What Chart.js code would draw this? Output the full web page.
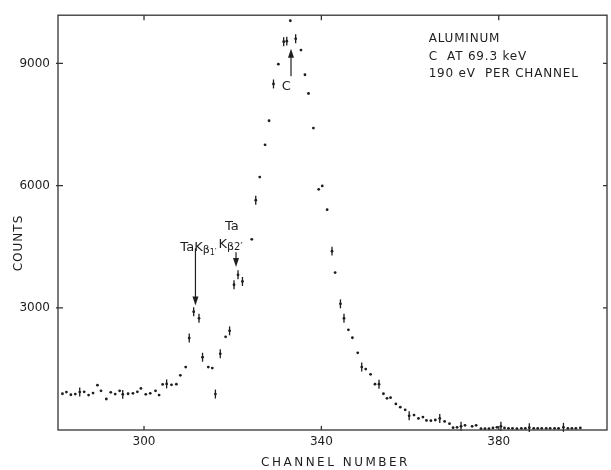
<!DOCTYPE html>
<html>
<head>
<meta charset="utf-8">
<script src="https://cdn.jsdelivr.net/npm/chart.js@4.4.1/dist/chart.umd.min.js"></script>
<style>
  html, body { margin: 0; padding: 0; background: #fff; }
  #wrap { width: 611px; height: 470px; }
</style>
</head>
<body>
<div id="wrap"><canvas id="chart" width="611" height="470"></canvas></div>
<script>
// channel positions
const channels = [
  281.6, 282.5, 283.5, 284.5, 285.5, 286.5, 287.5, 288.5, 289.5, 290.3,
  291.5, 292.5, 293.5, 294.5, 295.2, 296.4, 297.5, 298.5, 299.3, 300.4,
  301.4, 302.6, 303.4, 304.2, 305.1, 306.2, 307.3, 308.2, 309.4, 310.2,
  311.2, 312.4, 313.2, 314.5, 315.4, 316.1, 317.2, 318.4, 319.3, 320.3,
  321.2, 322.2, 324.3, 325.2, 326.1, 327.3, 328.2, 329.2, 330.3, 331.5,
  332.2, 333.0, 334.2, 335.4, 336.3, 337.1, 338.2, 339.4, 340.2, 341.3,
  342.4, 343.1, 344.3, 345.1, 346.1, 347.0, 348.2, 349.1, 350.0, 351.1,
  352.1, 353.0, 354.0, 354.8, 355.6, 356.8, 357.8, 358.9, 359.8, 360.9,
  361.9, 362.9, 363.7, 364.7, 365.7, 366.7, 367.8, 368.9, 369.7, 370.6,
  371.5, 372.4, 374.0, 374.9, 376.0, 376.9, 377.8, 378.7, 379.6, 380.5,
  381.3, 382.2, 383.1, 384.1, 385.1, 386.0, 386.9, 387.9, 388.8, 389.7,
  390.7, 391.6, 392.6, 393.5, 394.6, 395.6, 396.5, 397.4, 398.4
];
const counts = [
  890, 931, 866, 883, 931, 938, 858, 907, 1101, 963,
  761, 924, 883, 963, 875, 890, 900, 938, 1021, 875,
  900, 963, 858, 1118, 1132, 1108, 1125, 1343, 1545, 2258,
  2903, 2743, 1787, 1545, 1521, 883, 1870, 2289, 2435, 3567,
  3810, 3647, 4683, 5643, 6210, 7001, 7593, 8497, 8982, 9533,
  9548, 10049, 9605, 9329, 8723, 8262, 7413, 5910, 5992, 5410,
  4392, 3866, 3097, 2743, 2459, 2265, 1894, 1545, 1496, 1368,
  1125, 1125, 890, 778, 793, 640, 560, 495, 349, 366,
  284, 318, 235, 228, 245, 284, 211, 155, 58, 65,
  90, 114, 90, 114, 34, 34, 34, 51, 65, 90,
  51, 41, 41, 34, 41, 41, 58, 41, 41, 41,
  41, 41, 41, 41, 65, 41, 41, 41, 51
];
// points that carry a vertical error bar
const barChannels = [
  285.5, 295.2, 305.1, 310.2, 311.2, 312.4, 313.2, 316.1, 317.2, 319.3,
  320.3, 321.2, 322.2, 325.2, 329.2, 331.5, 332.2, 334.2, 342.4, 344.3,
  345.1, 349.1, 353.0, 359.8, 366.7, 371.5, 380.5, 386.9, 394.6
];
const barHalf = 110;

const xTicks = [300, 340, 380];
const yTicks = [3000, 6000, 9000];

const infoLines = ["ALUMINUM", "C  AT 69.3 keV", "190 eV  PER CHANNEL"];

const INK = "#1e1e1e";
const FONT = "'DejaVu Sans', sans-serif";

function drawArrow(ctx, x, y1, y2) {
  const dir = y2 > y1 ? 1 : -1;
  ctx.beginPath();
  ctx.moveTo(x, y1);
  ctx.lineTo(x, y2 - dir * 6);
  ctx.stroke();
  ctx.beginPath();
  ctx.moveTo(x, y2);
  ctx.lineTo(x - 3, y2 - dir * 9);
  ctx.lineTo(x + 3, y2 - dir * 9);
  ctx.closePath();
  ctx.fill();
}

const errorBars = {
  id: "errorBars",
  afterDatasetsDraw(chart) {
    const { ctx, scales } = chart;
    ctx.save();
    ctx.strokeStyle = INK;
    ctx.lineWidth = 1.3;
    channels.forEach((c, i) => {
      if (!barChannels.includes(c)) return;
      const px = scales.x.getPixelForValue(c);
      ctx.beginPath();
      ctx.moveTo(px, scales.y.getPixelForValue(counts[i] + barHalf));
      ctx.lineTo(px, scales.y.getPixelForValue(counts[i] - barHalf));
      ctx.stroke();
    });
    ctx.restore();
  },
};

const frameAndNotes = {
  id: "frameAndNotes",
  afterDraw(chart) {
    const { ctx, chartArea: a, scales } = chart;
    const X = (v) => scales.x.getPixelForValue(v);
    const Y = (v) => scales.y.getPixelForValue(v);
    ctx.save();

    // frame
    ctx.strokeStyle = "#333";
    ctx.lineWidth = 1.3;
    ctx.strokeRect(a.left, a.top, a.right - a.left, a.bottom - a.top);

    // inward ticks
    ctx.beginPath();
    xTicks.forEach((v) => {
      const px = X(v);
      ctx.moveTo(px, a.bottom); ctx.lineTo(px, a.bottom - 4);
      ctx.moveTo(px, a.top); ctx.lineTo(px, a.top + 5);
    });
    yTicks.forEach((v) => {
      const py = Y(v);
      ctx.moveTo(a.left - 2, py); ctx.lineTo(a.left + 5, py);
      ctx.moveTo(a.right, py); ctx.lineTo(a.right - 4, py);
    });
    ctx.stroke();

    ctx.fillStyle = INK;
    ctx.strokeStyle = INK;
    ctx.lineWidth = 1.2;

    // axis titles
    ctx.font = "12px " + FONT;
    ctx.letterSpacing = "2.5px";
    ctx.textAlign = "center";
    ctx.textBaseline = "middle";
    ctx.fillText("CHANNEL NUMBER", (a.left + a.right) / 2 + 3, 463);
    ctx.save();
    ctx.translate(19, 243);
    ctx.rotate(-Math.PI / 2);
    ctx.letterSpacing = "1px";
    ctx.fillText("COUNTS", 0, 0);
    ctx.restore();

    // info block
    ctx.letterSpacing = "0.8px";
    ctx.textAlign = "left";
    infoLines.forEach((t, i) => {
      ctx.fillText(t, X(364.2), Y(9603) + i * 17.5);
    });
    ctx.letterSpacing = "0px";

    // C peak
    ctx.textAlign = "center";
    ctx.font = "13px " + FONT;
    ctx.fillText("C", X(332.1), Y(8390) - 2);
    drawArrow(ctx, X(333.15), Y(8689), Y(9360));

    // Ta K beta 1'
    ctx.textBaseline = "alphabetic";
    ctx.textAlign = "left";
    let x = X(308.2);
    let y = Y(4389);
    ctx.font = "13px " + FONT;
    ctx.fillText("TaK", x, y);
    x += ctx.measureText("TaK").width;
    ctx.font = "11px " + FONT;
    ctx.fillText("\u03b2", x, y + 2);
    x += ctx.measureText("\u03b2").width;
    ctx.font = "8px " + FONT;
    ctx.fillText("1\u2032", x, y + 4);
    drawArrow(ctx, X(311.6), Y(4462), Y(3056));

    // Ta K beta 2'
    ctx.font = "13px " + FONT;
    ctx.textAlign = "center";
    ctx.fillText("Ta", X(319.8), Y(4959) + 2);
    ctx.textAlign = "left";
    x = X(316.8);
    y = Y(4462);
    ctx.fillText("K", x, y);
    x += ctx.measureText("K").width;
    ctx.font = "11px " + FONT;
    ctx.fillText("\u03b2", x, y + 2);
    x += ctx.measureText("\u03b2").width;
    ctx.font = "10px " + FONT;
    ctx.fillText("2\u2032", x, y + 2);
    drawArrow(ctx, X(320.75), Y(4365), Y(4001));

    ctx.restore();
  },
};

function main() {
  const ctx = document.getElementById("chart");
  new Chart(ctx.getContext("2d"), {
    type: "scatter",
    data: {
      datasets: [
        {
          data: channels.map((c, i) => ({ x: c, y: counts[i] })),
          pointRadius: 1.4,
          pointBackgroundColor: INK,
          pointBorderWidth: 0,
          showLine: false,
        },
      ],
    },
    options: {
      responsive: false,
      animation: false,
      layout: { padding: { top: 10, right: 2, left: 0, bottom: 0 } },
      scales: {
        x: {
          type: "linear",
          min: 280.6,
          max: 404.42,
          afterBuildTicks: (s) => { s.ticks = xTicks.map((v) => ({ value: v })); },
          afterFit: (s) => { s.height = 40; },
          grid: { display: false, drawTicks: false },
          border: { display: false },
          ticks: {
            padding: 5,
            color: INK,
            font: { family: "DejaVu Sans", size: 12 },
            callback: (v) => String(v),
          },
        },
        y: {
          min: 0,
          max: 10185,
          afterBuildTicks: (s) => { s.ticks = yTicks.map((v) => ({ value: v })); },
          afterFit: (s) => { s.width = 58; },
          grid: { display: false, drawTicks: false },
          border: { display: false },
          ticks: {
            padding: 8,
            color: INK,
            font: { family: "DejaVu Sans", size: 12 },
            callback: (v) => String(v),
          },
        },
      },
      plugins: {
        legend: { display: false },
        tooltip: { enabled: false },
      },
    },
    plugins: [errorBars, frameAndNotes],
  });
}

document.addEventListener("DOMContentLoaded", main);
</script>
</body>
</html>
